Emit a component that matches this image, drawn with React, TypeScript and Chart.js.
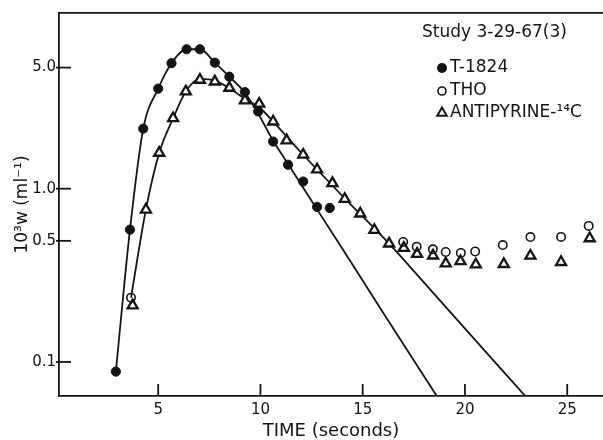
import React, { useEffect, useRef } from "react";
import { Chart, registerables } from "chart.js";

Chart.register(...registerables);

// ---- data ----
const t1824Time = [2.93, 3.62, 4.27, 5.0, 5.65, 6.39, 7.04, 7.77, 8.48, 9.24, 9.89, 10.62, 11.35, 12.09, 12.77, 13.39];
const t1824Value = [0.088, 0.58, 2.22, 3.78, 5.3, 6.38, 6.38, 5.34, 4.43, 3.61, 2.79, 1.87, 1.375, 1.1, 0.785, 0.774];

const thoTime = [3.67, 16.98, 17.64, 18.43, 19.06, 19.8, 20.5, 21.85, 23.2, 24.7, 26.05];
const thoValue = [0.235, 0.493, 0.463, 0.447, 0.431, 0.426, 0.434, 0.473, 0.526, 0.527, 0.61];

const antiTime = [3.75, 4.4, 5.05, 5.73, 6.35, 7.04, 7.77, 8.48, 9.24, 9.94, 10.62, 11.28, 12.09, 12.77, 13.52, 14.12, 14.88, 15.57, 16.29, 17.01, 17.66, 18.44, 19.06, 19.78, 20.53, 21.9, 23.2, 24.7, 26.1];
const antiValue = [0.212, 0.757, 1.61, 2.55, 3.64, 4.25, 4.15, 3.82, 3.23, 3.09, 2.44, 1.9, 1.57, 1.29, 1.076, 0.872, 0.718, 0.577, 0.482, 0.455, 0.42, 0.411, 0.37, 0.381, 0.365, 0.367, 0.41, 0.377, 0.517];

// hand-drawn fitted curves
const fitT1824Time = [2.93, 3.62, 4.27, 5.0, 5.65, 6.39, 7.04, 7.77, 8.48, 9.24, 9.9, 10.6, 11.35, 12.09, 14, 16, 18.62];
const fitT1824Value = [0.088, 0.58, 2.22, 3.78, 5.3, 6.38, 6.38, 5.34, 4.43, 3.58, 2.7, 1.91, 1.39, 1.013, 0.451, 0.1925, 0.0636];

const fitAntiTime = [3.67, 4.4, 5.05, 5.73, 6.35, 7.04, 7.77, 8.48, 9.24, 9.94, 10.62, 12.09, 14.12, 16.29, 18.5, 22.95];
const fitAntiValue = [0.235, 0.757, 1.61, 2.55, 3.64, 4.3, 4.2, 3.8, 3.3, 2.95, 2.44, 1.57, 0.88, 0.482, 0.246, 0.0636];

const xTickValues = [5, 10, 15, 20, 25];
const yTickValues = [0.1, 0.5, 1, 5];
const yTickLabels = ["0.1", "0.5", "1.0", "5.0"];

const legendTitle = "Study 3-29-67(3)";
const seriesNames = ["T-1824", "THO", "ANTIPYRINE-\u00B9\u2074C"];

const INK = "#141414";
const FONT = '"DejaVu Sans", "Liberation Sans", sans-serif';

const toPoints = (xs: number[], ys: number[]) => xs.map((x, i) => ({ x, y: ys[i] }));

const noSidePadding = (s: any) => {
  s.paddingLeft = 0;
  s.paddingRight = 0;
};

const innerTicks = {
  id: "innerTicks",
  afterDraw(chart: any) {
    const { ctx, chartArea } = chart;
    const xs = chart.scales.x;
    const ys = chart.scales.y;
    ctx.save();
    ctx.strokeStyle = INK;
    ctx.lineWidth = 1.8;
    xs.ticks.forEach((t: any) => {
      const px = xs.getPixelForValue(t.value);
      ctx.beginPath();
      ctx.moveTo(px, chartArea.bottom);
      ctx.lineTo(px, chartArea.bottom - 12);
      ctx.stroke();
    });
    ys.ticks.forEach((t: any) => {
      const py = ys.getPixelForValue(t.value);
      ctx.beginPath();
      ctx.moveTo(chartArea.left - 3, py);
      ctx.lineTo(chartArea.left + 12, py);
      ctx.stroke();
    });
    ctx.restore();
  },
};

const legendBox = {
  id: "legendBox",
  afterDraw(chart: any) {
    const { ctx } = chart;
    ctx.save();
    ctx.fillStyle = INK;
    ctx.strokeStyle = INK;
    ctx.textBaseline = "middle";
    ctx.textAlign = "left";
    ctx.font = `17px ${FONT}`;
    ctx.fillText(legendTitle, 422, 33);

    const mx = 442;
    const tx = 450;
    const rows = [68, 91, 113];
    ctx.beginPath();
    ctx.arc(mx, rows[0], 5, 0, Math.PI * 2);
    ctx.fill();
    ctx.lineWidth = 1.6;
    ctx.beginPath();
    ctx.arc(mx, rows[1], 4, 0, Math.PI * 2);
    ctx.stroke();
    ctx.lineWidth = 2;
    const r = 5.5;
    ctx.beginPath();
    ctx.moveTo(mx, rows[2] - r);
    ctx.lineTo(mx + r * Math.sin(Math.PI / 3), rows[2] + r * 0.5);
    ctx.lineTo(mx - r * Math.sin(Math.PI / 3), rows[2] + r * 0.5);
    ctx.closePath();
    ctx.stroke();

    ctx.font = `17px ${FONT}`;
    seriesNames.forEach((name, i) => ctx.fillText(name, tx, rows[i]));
    ctx.restore();
  },
};

export default function App() {
  const ref = useRef<HTMLCanvasElement | null>(null);

  useEffect(() => {
    document.body.style.margin = "0";
    const canvas = ref.current;
    if (!canvas) return;
    const chart = new Chart(canvas, {
      type: "scatter",
      data: {
        datasets: [
          {
            label: seriesNames[1],
            data: toPoints(thoTime, thoValue),
            pointStyle: "circle",
            pointRadius: 4.2,
            pointBorderWidth: 1.6,
            pointBackgroundColor: "rgba(255,255,255,0)",
            pointBorderColor: INK,
            showLine: false,
          },
          {
            label: seriesNames[2],
            data: toPoints(antiTime, antiValue),
            pointStyle: "triangle",
            pointRadius: 5.8,
            pointBorderWidth: 2.3,
            pointBackgroundColor: "#ffffff",
            pointBorderColor: INK,
            showLine: false,
          },
          {
            label: seriesNames[0],
            data: toPoints(t1824Time, t1824Value),
            pointStyle: "circle",
            pointRadius: 4.6,
            pointBorderWidth: 1,
            pointBackgroundColor: INK,
            pointBorderColor: INK,
            showLine: false,
          },
          {
            label: "fit T-1824",
            data: toPoints(fitT1824Time, fitT1824Value),
            showLine: true,
            pointRadius: 0,
            borderColor: INK,
            borderWidth: 1.8,
            cubicInterpolationMode: "monotone",
          },
          {
            label: "fit THO / antipyrine",
            data: toPoints(fitAntiTime, fitAntiValue),
            showLine: true,
            pointRadius: 0,
            borderColor: INK,
            borderWidth: 1.8,
            cubicInterpolationMode: "monotone",
          },
        ],
      },
      options: {
        animation: false,
        responsive: false,
        maintainAspectRatio: false,
        layout: { padding: 0, autoPadding: false },
        plugins: {
          legend: { display: false },
          tooltip: { enabled: false },
          title: { display: false },
        },
        events: [],
        scales: {
          x: {
            type: "linear",
            position: "bottom",
            min: 0.15,
            max: 26.75,
            afterFit: (s: any) => {
              s.height = 44;
              noSidePadding(s);
            },
            afterBuildTicks: (s: any) => {
              s.ticks = xTickValues.map((v) => ({ value: v }));
            },
            ticks: {
              autoSkip: false,
              maxRotation: 0,
              padding: 5,
              color: INK,
              font: { family: FONT, size: 15 },
              callback: (v: any) => String(v),
            },
            grid: { display: false, drawTicks: false },
            border: { display: true, color: INK, width: 1.8 },
            title: {
              display: true,
              text: "TIME (seconds)",
              color: INK,
              font: { family: FONT, size: 18, lineHeight: 1 },
              padding: { top: 0, bottom: 0 },
            },
          },
          x2: {
            type: "linear",
            position: "top",
            min: 0.15,
            max: 26.75,
            afterFit: (s: any) => {
              s.height = 13;
              noSidePadding(s);
            },
            ticks: { display: false },
            grid: { display: false, drawTicks: false },
            border: { display: true, color: INK, width: 1.8 },
          },
          y: {
            type: "logarithmic",
            position: "left",
            min: 0.0636,
            max: 10.33,
            afterFit: (s: any) => {
              s.width = 59;
              s.paddingTop = 0;
              s.paddingBottom = 0;
            },
            afterBuildTicks: (s: any) => {
              s.ticks = yTickValues.map((v) => ({ value: v }));
            },
            ticks: {
              autoSkip: false,
              padding: 3,
              color: INK,
              font: { family: FONT, size: 15 },
              callback: (_v: any, i: number) => yTickLabels[i],
            },
            grid: { display: false, drawTicks: false },
            border: { display: true, color: INK, width: 1.8 },
            title: {
              display: true,
              text: "10\u00B3w (ml\u207B\u00B9)",
              color: INK,
              font: { family: FONT, size: 17, lineHeight: 1 },
              padding: { top: 14, bottom: 0 },
            },
          },
        },
      },
      plugins: [innerTicks, legendBox],
    });
    return () => chart.destroy();
  }, []);

  return (
    <div style={{ width: 603, height: 440, background: "#fff" }}>
      <canvas ref={ref} width={603} height={440} style={{ display: "block" }} />
    </div>
  );
}
